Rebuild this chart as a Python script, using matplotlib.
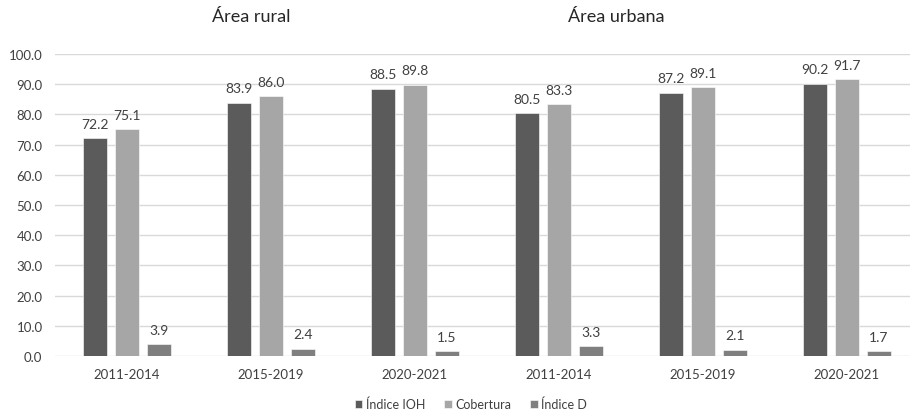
import matplotlib
matplotlib.use("Agg")
import matplotlib.pyplot as plt
import numpy as np

plt.rcParams['font.family'] = ['Lato', 'DejaVu Sans']

categories = ["2011-2014", "2015-2019", "2020-2021", "2011-2014", "2015-2019", "2020-2021"]
indice_ioh = [72.2, 83.9, 88.5, 80.5, 87.2, 90.2]
cobertura = [75.1, 86.0, 89.8, 83.3, 89.1, 91.7]
indice_d = [3.9, 2.4, 1.5, 3.3, 2.1, 1.7]
series_names = ["Índice IOH", "Cobertura", "Índice D"]
group_titles = ["Área rural", "Área urbana"]
yticks = [0, 10, 20, 30, 40, 50, 60, 70, 80, 90, 100]

colors = ["#5b5b5b", "#a6a6a6", "#7f7f7f"]

W, H = 910, 414
fig = plt.figure(figsize=(W / 100, H / 100), dpi=100)
ax = fig.add_axes([55 / W, 57 / H, 864 / W, 302 / H])

x = np.arange(len(categories))
bw = 24 / 144
off = 32 / 144
for i, (vals, name, c) in enumerate(zip([indice_ioh, cobertura, indice_d], series_names, colors)):
    bars = ax.bar(x + (i - 1) * off, vals, width=bw, color=c, label=name,
                  edgecolor="white", linewidth=0.4, zorder=3)
    for b, v in zip(bars, vals):
        ax.annotate(f"{v:.1f}", (b.get_x() + b.get_width() / 2, v), xytext=(0, 6),
                    textcoords="offset points", ha="center", va="bottom",
                    fontsize=10, color="#404040")

ax.set_xlim(-0.5, len(categories) - 0.5)
ax.set_ylim(0, 100)
ax.set_yticks(yticks)
ax.set_yticklabels([f"{t:.1f}" for t in yticks])
ax.set_xticks(x)
ax.set_xticklabels(categories)
ax.tick_params(axis="both", length=0, labelsize=9.5, labelcolor="#404040")
ax.tick_params(axis="y", pad=9)
ax.tick_params(axis="x", pad=9)
ax.grid(axis="y", color="#d9d9d9", linewidth=1, zorder=0)
for s in ax.spines.values():
    s.set_visible(False)

fig.text(251 / W, 1 - 17 / H, group_titles[0], ha="center", va="center", fontsize=13, color="#262626")
fig.text(616 / W, 1 - 17 / H, group_titles[1], ha="center", va="center", fontsize=13, color="#262626")

leg = fig.legend(loc="center", bbox_to_anchor=(471 / W, 1 - 405 / H), ncol=3, frameon=False,
                 fontsize=9, handlelength=0.6, handleheight=0.6, handletextpad=0.3,
                 columnspacing=1.5, labelcolor="#404040")

fig.savefig("out.png", dpi=100)
